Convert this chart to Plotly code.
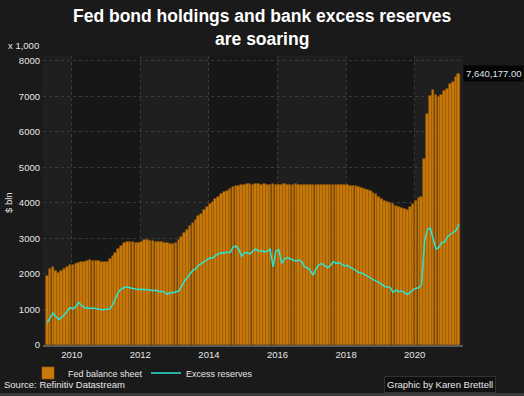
import pandas as pd
import plotly.graph_objects as go

# ---- data (monthly, $ bn) ----
start_month = "2009-03-15"
fed_balance = [
    # 2009 Mar-Dec
    1950, 2150, 2190, 2080, 2040, 2090, 2150, 2200, 2240, 2260,
    # 2010
    2280, 2300, 2330, 2350, 2370, 2390, 2380, 2370, 2360, 2350, 2340, 2350,
    # 2011
    2420, 2500, 2600, 2700, 2800, 2880, 2900, 2900, 2890, 2880, 2870, 2900,
    # 2012
    2950, 2960, 2940, 2920, 2910, 2900, 2890, 2880, 2860, 2850, 2850, 2870,
    # 2013
    2950, 3050, 3150, 3250, 3350, 3450, 3530, 3620, 3700, 3790, 3880, 3960,
    # 2014
    4030, 4100, 4170, 4240, 4300, 4350, 4400, 4440, 4470, 4490, 4510, 4520,
    # 2015
    4530, 4530, 4520, 4530, 4530, 4520, 4530, 4520, 4520, 4530, 4520, 4520,
    # 2016
    4520, 4530, 4520, 4520, 4520, 4530, 4520, 4520, 4520, 4520, 4520, 4520,
    # 2017
    4520, 4520, 4520, 4520, 4520, 4510, 4510, 4510, 4510, 4500, 4500, 4500,
    # 2018
    4490, 4480, 4470, 4450, 4430, 4400, 4370, 4330, 4290, 4240, 4180, 4120,
    # 2019
    4060, 4030, 4000, 3960, 3920, 3890, 3860, 3830, 3800, 3880, 3980, 4060,
    # 2020
    4150, 4180, 5250, 6500, 7000, 7170, 7050, 6990, 7050, 7150, 7200, 7350,
    # 2021 Jan-Mar
    7400, 7550, 7640.177,
]
excess_reserves = [
    # 2009 Mar-Dec
    630, 780, 900, 800, 720, 780, 850, 960, 1050, 1020,
    # 2010
    1080, 1200, 1120, 1050, 1050, 1030, 1040, 1020, 1010, 990, 1000, 1010,
    # 2011
    1020, 1150, 1350, 1500, 1580, 1620, 1630, 1600, 1590, 1580, 1560, 1570,
    # 2012
    1570, 1560, 1550, 1530, 1550, 1500, 1510, 1490, 1430, 1480, 1470, 1500,
    # 2013
    1520, 1650, 1800, 1900, 2000, 2100, 2150, 2250, 2300, 2350, 2420, 2460,
    # 2014
    2450, 2530, 2570, 2600, 2590, 2620, 2600, 2750, 2790, 2700, 2500, 2600,
    # 2015
    2600, 2560, 2650, 2700, 2640, 2660, 2620, 2640, 2700, 2200, 2650, 2680,
    # 2016
    2300, 2420, 2460, 2430, 2380, 2360, 2400, 2350, 2200, 2180, 2100, 1960,
    # 2017
    2150, 2250, 2300, 2230, 2180, 2230, 2350, 2300, 2320, 2280, 2220, 2250,
    # 2018
    2180, 2150, 2100, 2040, 2030, 1980, 1950, 1900, 1850, 1800, 1770, 1700,
    # 2019
    1650, 1640, 1620, 1480, 1550, 1500, 1520, 1480, 1420, 1480, 1560, 1600,
    # 2020
    1610, 1710, 2900, 3250, 3300, 3000, 2700, 2750, 2880, 2900, 3050, 3120,
    # 2021 Jan-Mar
    3180, 3220, 3400,
]
dates = pd.date_range(start=start_month, periods=len(fed_balance), freq="MS") + pd.Timedelta(days=14)

y_tick_values = [0, 1000, 2000, 3000, 4000, 5000, 6000, 7000, 8000]
x_tick_years = ["2010", "2012", "2014", "2016", "2018", "2020"]

title_line1 = "Fed bond holdings and bank excess reserves"
title_line2 = "are soaring"
last_label = f"{fed_balance[-1] * 1000:,.2f}"

FONT = "Liberation Sans, Arial, sans-serif"
TXT = "#e6e6e6"

# plot area in pixels: left 43, right 463, top 56, bottom 345
def py(p):
    return (345 - p) / 289.0

def px(p):
    return (p - 43) / 420.0

fig = go.Figure()
fig.add_trace(go.Bar(
    x=dates, y=fed_balance, name="Fed balance sheet",
    marker=dict(color="#c97a0a", line=dict(color="#9c5d06", width=0.6)),
))
fig.add_trace(go.Scatter(
    x=dates, y=excess_reserves, name="Excess reserves", mode="lines",
    line=dict(color="#2de3d3", width=1.5),
))

# alternating two-year background bands
band_edges = ["2009-03-01", "2010-01-01", "2012-01-01", "2014-01-01",
              "2016-01-01", "2018-01-01", "2020-01-01", "2021-06-01"]
shapes = []
for i in range(0, len(band_edges) - 1, 2):
    shapes.append(dict(type="rect", xref="x", yref="paper",
                       x0=band_edges[i], x1=band_edges[i + 1], y0=0, y1=1,
                       fillcolor="#1f1f1f", line=dict(width=0), layer="below"))
# thin grey strip along the bottom edge of the graphic
shapes.append(dict(type="rect", xref="paper", yref="paper",
                   x0=px(0), x1=px(524), y0=py(396), y1=py(393),
                   fillcolor="#3a3a3a", line=dict(width=0), layer="above"))

fig.update_layout(
    width=524, height=396,
    margin=dict(l=43, r=61, t=56, b=51, autoexpand=False),
    paper_bgcolor="#1a1a1a", plot_bgcolor="#171717",
    font=dict(family=FONT, size=9.5, color=TXT),
    bargap=0,
    showlegend=True,
    legend=dict(orientation="h", x=px(28), xanchor="left", y=py(373), yanchor="middle",
                bgcolor="rgba(0,0,0,0)", font=dict(size=9, color=TXT),
                itemwidth=30, tracegroupgap=0,
                entrywidth=73, entrywidthmode="pixels"),
    shapes=shapes,
    xaxis=dict(
        type="date", range=["2009-03-01", "2021-05-30"], automargin=False,
        tickvals=[f"{y}-01-01" for y in x_tick_years], ticktext=x_tick_years,
        showgrid=True, gridcolor="#3a3a3a", griddash="dot", gridwidth=1,
        showline=True, linecolor="#5a5a5a", linewidth=2,
        ticks="", tickfont=dict(size=9.5, color=TXT), zeroline=False,
    ),
    yaxis=dict(
        range=[0, 8140], tickvals=y_tick_values, automargin=False,
        showgrid=True, gridcolor="#3a3a3a", griddash="dot", gridwidth=1,
        zeroline=False, ticks="", tickfont=dict(size=9.5, color=TXT),
        ticklabelstandoff=2,
    ),
    annotations=[
        dict(text=f"<b>{title_line1}</b>", xref="paper", yref="paper",
             x=px(262), y=py(16), xanchor="center", yanchor="middle", showarrow=False,
             font=dict(family=FONT, size=17.5, color="#ffffff")),
        dict(text=f"<b>{title_line2}</b>", xref="paper", yref="paper",
             x=px(262), y=py(39), xanchor="center", yanchor="middle", showarrow=False,
             font=dict(family=FONT, size=17.5, color="#ffffff")),
        dict(text="x 1,000", xref="paper", yref="paper", x=px(41), y=py(46),
             xanchor="right", yanchor="middle", showarrow=False,
             font=dict(size=9.5, color=TXT)),
        dict(text="$ bln", xref="paper", yref="paper", x=px(8), y=py(203),
             xanchor="center", yanchor="middle", textangle=-90, showarrow=False,
             font=dict(size=9.5, color=TXT)),
        dict(text=last_label, xref="paper", yref="y", x=1.0, y=fed_balance[-1],
             xanchor="left", yanchor="middle", showarrow=False,
             bgcolor="#050505", borderpad=2, font=dict(size=9.5, color="#dfe8f5")),
        dict(text="Source: Refinitiv Datastream", xref="paper", yref="paper",
             x=px(2), y=py(385), xanchor="left", yanchor="middle", showarrow=False,
             font=dict(size=9.5, color=TXT)),
        dict(text="Graphic by Karen Brettell", xref="paper", yref="paper",
             x=px(439.5), y=py(385), xanchor="center", yanchor="middle", showarrow=False,
             bgcolor="#101010", bordercolor="#333333", borderwidth=1, borderpad=2,
             font=dict(size=9.5, color=TXT)),
    ],
)

fig.write_html(
    "out.html",
    config={"displayModeBar": False},
    post_script="document.body.style.margin='0';document.body.style.overflow='hidden';"
                "document.body.style.background='#1a1a1a';",
)
